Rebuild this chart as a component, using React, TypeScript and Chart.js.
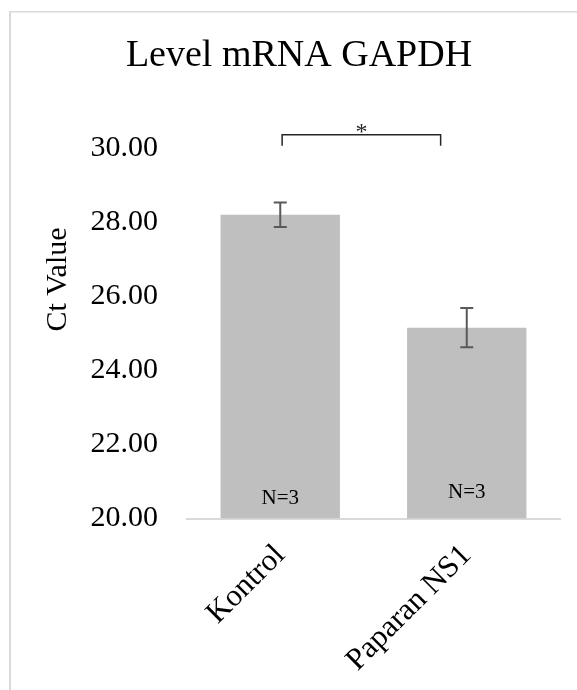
import React, { useEffect, useRef } from "react";
import { Chart, registerables } from "chart.js";

Chart.register(...registerables);

const categories = ["Kontrol", "Paparan NS1"];
const ctValues = [28.2, 25.15];
const ctErrors = [0.33, 0.53];
const yTicks = [20, 22, 24, 26, 28, 30];
const nLabels = ["N=3", "N=3"];
const nLabelValues = [20.53, 20.69];
const chartTitle = "Level mRNA GAPDH";
const yTitle = "Ct Value";
const sigMark = "*";
const sigBracketCats = [0.01, 0.86];
const sigBracketValues = [30.06, 30.36];

const FONT = "'Liberation Serif', 'Times New Roman', serif";

function catPixel(scale: any, v: number) {
  const p0 = scale.getPixelForValue(0);
  const p1 = scale.getPixelForValue(1);
  return p0 + (p1 - p0) * v;
}

const overlay = {
  id: "overlay",
  afterDatasetsDraw(chart: any) {
    const ctx = chart.ctx;
    const xs = chart.scales.x;
    const ys = chart.scales.y;
    ctx.save();
    // error bars
    ctx.strokeStyle = "#595959";
    ctx.lineWidth = 2;
    ctValues.forEach((v, i) => {
      const x = xs.getPixelForValue(i);
      const yt = ys.getPixelForValue(v + ctErrors[i]);
      const yb = ys.getPixelForValue(v - ctErrors[i]);
      ctx.beginPath();
      ctx.moveTo(x, yt);
      ctx.lineTo(x, yb);
      ctx.moveTo(x - 6.5, yt);
      ctx.lineTo(x + 6.5, yt);
      ctx.moveTo(x - 6.5, yb);
      ctx.lineTo(x + 6.5, yb);
      ctx.stroke();
    });
    // N labels
    ctx.fillStyle = "#000";
    ctx.font = `21px ${FONT}`;
    ctx.textAlign = "center";
    ctx.textBaseline = "middle";
    nLabels.forEach((t, i) => {
      ctx.fillText(t, xs.getPixelForValue(i), ys.getPixelForValue(nLabelValues[i]));
    });
    // significance bracket
    const bx0 = catPixel(xs, sigBracketCats[0]);
    const bx1 = catPixel(xs, sigBracketCats[1]);
    const byLow = ys.getPixelForValue(sigBracketValues[0]);
    const byHigh = ys.getPixelForValue(sigBracketValues[1]);
    ctx.strokeStyle = "#262626";
    ctx.lineWidth = 1.5;
    ctx.beginPath();
    ctx.moveTo(bx0, byLow);
    ctx.lineTo(bx0, byHigh);
    ctx.lineTo(bx1, byHigh);
    ctx.lineTo(bx1, byLow);
    ctx.stroke();
    ctx.fillStyle = "#262626";
    ctx.font = `24px ${FONT}`;
    ctx.textAlign = "center";
    ctx.textBaseline = "alphabetic";
    ctx.fillText(sigMark, (bx0 + bx1) / 2, byHigh + 4);
    // title
    ctx.fillStyle = "#000";
    ctx.font = `38px ${FONT}`;
    ctx.textAlign = "center";
    ctx.textBaseline = "alphabetic";
    ctx.fillText(chartTitle, 299, 66);
    // y axis title
    ctx.save();
    ctx.translate(58, ys.getPixelForValue(26.45));
    ctx.rotate(-Math.PI / 2);
    ctx.font = `30px ${FONT}`;
    ctx.textAlign = "center";
    ctx.textBaseline = "middle";
    ctx.fillText(yTitle, 0, 0);
    ctx.restore();
    // frame
    ctx.fillStyle = "#d9d9d9";
    ctx.fillRect(9, 11, 2, chart.height - 11);
    ctx.fillRect(9, 11, chart.width - 9, 1.5);
    ctx.restore();
  },
};

export default function App() {
  const ref = useRef<HTMLCanvasElement>(null);
  useEffect(() => {
    if (!ref.current) return;
    const chart = new Chart(ref.current, {
      type: "bar",
      data: {
        labels: categories,
        datasets: [
          {
            data: ctValues,
            backgroundColor: "#bfbfbf",
            borderWidth: 0,
            barPercentage: 0.64,
            categoryPercentage: 1,
            base: 20,
          },
        ],
      },
      options: {
        responsive: false,
        animation: false,
        layout: { padding: { left: 0, right: 17, top: 148, bottom: 0 } },
        plugins: {
          legend: { display: false },
          title: { display: false },
          tooltip: { enabled: false },
        },
        scales: {
          x: {
            grid: { display: false, drawTicks: false },
            border: { display: true, color: "#d9d9d9", width: 2 },
            ticks: {
              color: "#000",
              font: { family: FONT, size: 31 },
              minRotation: 45,
              maxRotation: 45,
              padding: 19,
            },
            afterFit: (s: any) => {
              s.height = 171.5;
            },
          },
          y: {
            min: 20,
            max: 30,
            grid: { display: false, drawTicks: false },
            border: { display: false },
            afterBuildTicks: (s: any) => {
              s.ticks = yTicks.map((v) => ({ value: v }));
            },
            ticks: {
              color: "#000",
              font: { family: FONT, size: 30 },
              padding: 29,
              callback: (v: any) => Number(v).toFixed(2),
            },
            afterFit: (s: any) => {
              s.width = 187;
            },
          },
        },
      },
      plugins: [overlay],
    });
    return () => chart.destroy();
  }, []);
  return (
    <div style={{ position: "absolute", left: 0, top: 0, width: 577, height: 690, background: "#fff" }}>
      <canvas ref={ref} width={577} height={690} style={{ display: "block", width: 577, height: 690 }} />
    </div>
  );
}
